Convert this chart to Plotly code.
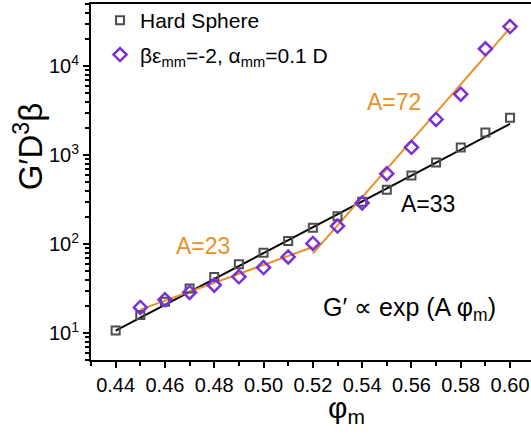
import plotly.graph_objects as go

phi_hs = [0.44, 0.45, 0.46, 0.47, 0.48, 0.49, 0.50, 0.51, 0.52, 0.53, 0.54, 0.55, 0.56, 0.57, 0.58, 0.59, 0.60]
g_hs = [10.7, 16, 22.6, 31.8, 42.7, 59.6, 80, 109, 153, 206, 300, 410, 593, 828, 1219, 1794, 2637]

phi_att = [0.45, 0.46, 0.47, 0.48, 0.49, 0.50, 0.51, 0.52, 0.53, 0.54, 0.55, 0.56, 0.57, 0.58, 0.59, 0.60]
g_att = [19.5, 23.8, 28.7, 34.7, 43, 54.6, 72, 102, 160, 291, 620, 1228, 2520, 4850, 15700, 27900]

fit_hs_x = [0.44, 0.60]
fit_hs_y = [10.7, 2250]
fit_low_x = [0.45, 0.52]
fit_low_y = [18.4, 93]
fit_high_x = [0.52, 0.60]
fit_high_y = [78.3, 26900]

y_tickvals = [10, 100, 1000, 10000]
y_ticktext = ["10<sup>1</sup>", "10<sup>2</sup>", "10<sup>3</sup>", "10<sup>4</sup>"]
x_tickvals = [0.44, 0.46, 0.48, 0.50, 0.52, 0.54, 0.56, 0.58, 0.60]
x_ticktext = ["0.44", "0.46", "0.48", "0.50", "0.52", "0.54", "0.56", "0.58", "0.60"]

ORANGE = "#E8912A"
PURPLE = "#7B2FD6"
GRAY = "#4D4D4D"
FONT = "Liberation Sans, Arial, sans-serif"

fig = go.Figure()
fig.add_trace(go.Scatter(x=fit_hs_x, y=fit_hs_y, mode="lines",
                         line=dict(color="black", width=2), showlegend=False))
fig.add_trace(go.Scatter(x=fit_low_x, y=fit_low_y, mode="lines",
                         line=dict(color=ORANGE, width=2), showlegend=False))
fig.add_trace(go.Scatter(x=fit_high_x, y=fit_high_y, mode="lines",
                         line=dict(color=ORANGE, width=2), showlegend=False))
fig.add_trace(go.Scatter(x=phi_hs, y=g_hs, mode="markers", name="Hard Sphere",
                         legendgroup="hs",
                         marker=dict(symbol="square-open", size=8, color=GRAY,
                                     line=dict(color=GRAY, width=2))))
fig.add_trace(go.Scatter(x=phi_att, y=g_att, mode="markers",
                         name="βε<sub>mm</sub>=-2, α<sub>mm</sub>=0.1 D",
                         legendgroup="att",
                         marker=dict(symbol="diamond-open", size=10, color=PURPLE,
                                     line=dict(color=PURPLE, width=2.5))))

fig.add_annotation(x=0.4753, y=1.98, text="A=23", showarrow=False,
                   font=dict(size=23, color=ORANGE, family=FONT))
fig.add_annotation(x=0.5529, y=3.6, text="A=72", showarrow=False,
                   font=dict(size=23, color=ORANGE, family=FONT))
fig.add_annotation(x=0.5667, y=2.449, text="A=33", showarrow=False,
                   font=dict(size=23, color="black", family=FONT))
fig.add_annotation(x=0.5594, y=1.276, text="G′ ∝ exp (A φ<sub>m</sub>)", showarrow=False,
                   font=dict(size=25, color="black", family=FONT))
# axis titles
fig.add_annotation(xref="paper", yref="paper", x=0.58, y=-0.14, text="φ<sub>m</sub>",
                   showarrow=False, xanchor="center", yanchor="middle",
                   font=dict(size=30, color="black", family=FONT))
fig.add_annotation(xref="paper", yref="paper", x=-0.141, y=0.6, text="G′D<sup>3</sup>β",
                   showarrow=False, xanchor="center", yanchor="middle", textangle=-90,
                   font=dict(size=33, color="black", family=FONT))

fig.update_layout(
    width=531, height=434,
    margin=dict(l=91, r=0, t=4, b=74),
    paper_bgcolor="white", plot_bgcolor="white",
    font=dict(family=FONT, color="black", size=20),
    legend=dict(x=0.0205, y=1.011, xanchor="left", yanchor="top",
                bgcolor="rgba(0,0,0,0)", font=dict(size=21, family=FONT),
                itemwidth=30, tracegroupgap=4),
)
fig.update_xaxes(
    range=[0.43, 0.6085], showgrid=False, zeroline=False,
    showline=True, linecolor="black", linewidth=2, mirror=True,
    ticks="outside", ticklen=6, tickwidth=2, tickcolor="black",
    tickvals=x_tickvals, ticktext=x_ticktext,
    tickfont=dict(size=20, family=FONT),
    minor=dict(ticks="outside", ticklen=4, tickwidth=2, tickcolor="black", dtick=0.01, tick0=0.43, showgrid=False),
)
fig.update_yaxes(
    type="log", range=[0.699, 4.699], showgrid=False, zeroline=False,
    showline=True, linecolor="black", linewidth=2,
    ticks="outside", ticklen=6, tickwidth=2, tickcolor="black",
    tickvals=y_tickvals, ticktext=y_ticktext,
    tickfont=dict(size=20, family=FONT),
    minor=dict(ticks="outside", ticklen=4, tickwidth=1.5, tickcolor="black", dtick="D1", showgrid=False),
)

fig.write_html("out.html")
